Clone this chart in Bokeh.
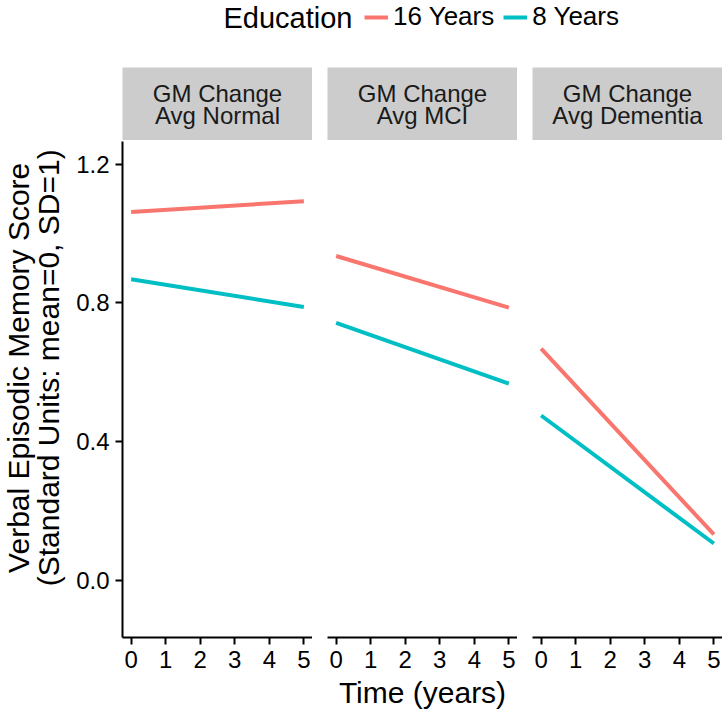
import numpy as np
from bokeh.plotting import figure
from bokeh.models import (Range1d, FixedTicker, PrintfTickFormatter, Legend, LegendItem,
                          Label, Spacer)
from bokeh.layouts import row, column
from bokeh.core.properties import value
from bokeh.embed import file_html
from bokeh.resources import INLINE

# ---------------- data ----------------
time_years = [0, 5]
panel_line1 = ["GM Change", "GM Change", "GM Change"]
panel_line2 = ["Avg Normal", "Avg MCI", "Avg Dementia"]
edu16_normal = [1.062, 1.093]
edu8_normal = [0.868, 0.788]
edu16_mci = [0.935, 0.786]
edu8_mci = [0.742, 0.567]
edu16_dementia = [0.668, 0.132]
edu8_dementia = [0.475, 0.106]
series_labels = ["16 Years", "8 Years"]
legend_title = "Education"
x_ticks = [0, 1, 2, 3, 4, 5]
y_ticks = [0.0, 0.4, 0.8, 1.2]
y_limits = (-0.1, 1.2)
x_limits = (0, 5)

RED = "#F8766D"
CYAN = "#00BFC4"
FONT = "Liberation Sans"
STRIP = "#cccccc"

# ggplot-style 5% expansion
yr = y_limits[1] - y_limits[0]
Y_RANGE = (y_limits[0] - 0.05 * yr, y_limits[1] + 0.05 * yr)
xr = x_limits[1] - x_limits[0]
X_RANGE = (x_limits[0] - 0.05 * xr, x_limits[1] + 0.05 * xr)

FRAME_W = [190, 190, 190]
PANEL_H = 537
LEG_H = 67
STRIP_H = 73
XT_H = 39
TOTAL_W = 722


def bare(p):
    p.grid.visible = False
    p.outline_line_color = None
    return p


# ---------------- legend row ----------------
leg = figure(width=TOTAL_W, height=LEG_H, x_range=Range1d(0, TOTAL_W), y_range=Range1d(0, LEG_H),
             min_border=0, output_backend="svg", toolbar_location=None,
             x_axis_location=None, y_axis_location=None)
bare(leg)
r16 = leg.line(time_years, edu16_normal, line_color=RED, line_width=4, visible=False)
r8 = leg.line(time_years, edu8_normal, line_color=CYAN, line_width=4, visible=False)
legend = Legend(items=[LegendItem(label=series_labels[0], renderers=[r16]),
                       LegendItem(label=series_labels[1], renderers=[r8])],
                orientation="horizontal", location=(364, 35),
                glyph_width=24, glyph_height=20, label_standoff=5, spacing=9,
                padding=0, margin=0, border_line_color=None, background_fill_alpha=0,
                label_text_font=FONT, label_text_font_size="26px", label_text_color="black")
leg.add_layout(legend)
leg.add_layout(Label(x=223, y=LEG_H - 17.5, text=legend_title, text_font=FONT,
                     text_font_size="29px", text_baseline="middle", text_color="black"))

# ---------------- strips row ----------------
strips = [Spacer(width=122, height=STRIP_H)]
for i in range(3):
    s = figure(width=FRAME_W[i], height=STRIP_H, x_range=Range1d(0, 1), y_range=Range1d(0, 1),
               min_border=0, output_backend="svg", toolbar_location=None,
               x_axis_location=None, y_axis_location=None,
               background_fill_color=STRIP, border_fill_color="white")
    bare(s)
    s.text(x=[0.5], y=[0.64], text=[panel_line1[i]], text_align="center",
           text_baseline="middle", text_font=value(FONT), text_font_size="24px",
           text_color="#1a1a1a")
    s.text(x=[0.5], y=[0.336], text=[panel_line2[i]], text_align="center",
           text_baseline="middle", text_font=value(FONT), text_font_size="24px",
           text_color="#1a1a1a")
    strips.append(s)
    if i < 2:
        strips.append(Spacer(width=15, height=STRIP_H))

# ---------------- y title ----------------
yt = figure(width=68, height=PANEL_H, x_range=Range1d(0, 68), y_range=Range1d(0, PANEL_H),
            min_border=0, output_backend="svg", toolbar_location=None,
            x_axis_location=None, y_axis_location=None)
bare(yt)
yt.text(x=[18, 48], y=[292, 292],
        text=["Verbal Episodic Memory Score", "(Standard Units: mean=0, SD=1)"],
        angle=np.pi / 2, text_align="center", text_baseline="middle",
        text_font=value(FONT), text_font_size="30px", text_color="black")

# ---------------- panels ----------------
series = [(edu16_normal, edu8_normal), (edu16_mci, edu8_mci), (edu16_dementia, edu8_dementia)]
panels = []
for i in range(3):
    left = 54 if i == 0 else 15
    p = figure(width=left + FRAME_W[i], height=PANEL_H,
               x_range=Range1d(*X_RANGE), y_range=Range1d(*Y_RANGE),
               min_border_left=left, min_border_right=0, min_border_top=1,
               min_border_bottom=40, output_backend="svg", toolbar_location=None,
               y_axis_location="left" if i == 0 else None)
    bare(p)
    p.line(time_years, series[i][0], line_color=RED, line_width=4)
    p.line(time_years, series[i][1], line_color=CYAN, line_width=4)
    p.xaxis.ticker = FixedTicker(ticks=x_ticks)
    axes = [p.xaxis[0]]
    if i == 0:
        p.yaxis.ticker = FixedTicker(ticks=y_ticks)
        p.yaxis.formatter = PrintfTickFormatter(format="%.1f")
        p.yaxis.major_label_standoff = 6
        axes.append(p.yaxis[0])
    p.xaxis.major_label_standoff = 6
    for ax in axes:
        ax.axis_line_color = "black"
        ax.axis_line_width = 2
        ax.major_tick_line_color = "black"
        ax.major_tick_line_width = 2
        ax.major_tick_out = 7
        ax.major_tick_in = 0
        ax.minor_tick_out = 0
        ax.minor_tick_in = 0
        ax.major_label_text_font = FONT
        ax.major_label_text_font_size = "24px"
        ax.major_label_text_color = "black"
    panels.append(p)

# ---------------- x title ----------------
xt = figure(width=TOTAL_W, height=XT_H, x_range=Range1d(0, TOTAL_W), y_range=Range1d(0, XT_H),
            min_border=0, output_backend="svg", toolbar_location=None,
            x_axis_location=None, y_axis_location=None)
bare(xt)
xt.text(x=[422], y=[XT_H - 15], text=["Time (years)"], text_align="center",
        text_baseline="middle", text_font=value(FONT), text_font_size="30px",
        text_color="black")

layout = column(leg, row(*strips), row(yt, *panels), xt)

open("out.html", "w").write(file_html(layout, INLINE))
